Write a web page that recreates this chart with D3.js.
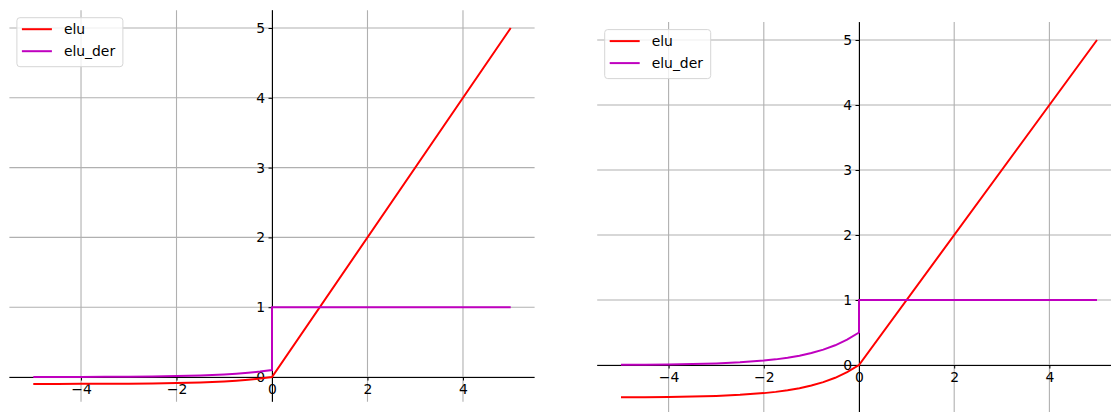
<!DOCTYPE html>
<html>
<head>
<meta charset="utf-8">
<script src="https://cdn.jsdelivr.net/npm/d3@7/dist/d3.min.js"></script>
<style>
  html, body { margin: 0; padding: 0; background: #fff; }
  svg { display: block; }
  text { font-family: "DejaVu Sans", sans-serif; font-size: 13.9px; fill: #000; }
</style>
</head>
<body>
<svg id="chart" width="1111" height="412"></svg>
<script>
// Sample points of ELU and its derivative, alpha = 0.1 (left) and alpha = 0.5 (right)
const xs = [-5, -4.5, -4, -3.5, -3, -2.5, -2, -1.75, -1.5, -1.25, -1, -0.75, -0.5, -0.25, 0, 5];
const xsDer = [-5, -4.5, -4, -3.5, -3, -2.5, -2, -1.75, -1.5, -1.25, -1, -0.75, -0.5, -0.25, 0, 0, 5];

const eluLeft = [-0.0993, -0.0989, -0.0982, -0.0970, -0.0950, -0.0918, -0.0865, -0.0826, -0.0777, -0.0713, -0.0632, -0.0528, -0.0393, -0.0221, 0, 5];
const derLeft = [0.0007, 0.0011, 0.0018, 0.0030, 0.0050, 0.0082, 0.0135, 0.0174, 0.0223, 0.0287, 0.0368, 0.0472, 0.0607, 0.0779, 0.1, 1, 1];

const eluRight = [-0.4966, -0.4944, -0.4908, -0.4849, -0.4751, -0.4590, -0.4323, -0.4131, -0.3884, -0.3568, -0.3161, -0.2638, -0.1967, -0.1106, 0, 5];
const derRight = [0.0034, 0.0056, 0.0092, 0.0151, 0.0249, 0.0410, 0.0677, 0.0869, 0.1116, 0.1433, 0.1839, 0.2362, 0.3033, 0.3894, 0.5, 1, 1];

const xTicks = [-4, -2, 0, 2, 4];
const yTicks = [0, 1, 2, 3, 4, 5];
const seriesNames = ["elu", "elu_der"];
const seriesColors = ["#ff0000", "#bf00bf"];

const svg = d3.select("#chart");
const fmt = d => d < 0 ? "\u2212" + Math.abs(d) : String(d);

function drawPanel(p) {
  const x = d3.scaleLinear().domain(p.xDomain).range(p.xRange);
  const y = d3.scaleLinear().domain(p.yDomain).range(p.yRange);
  const g = svg.append("g");
  const [x0, x1] = p.xRange;
  const [yb, yt] = p.yRange;

  // grid
  g.append("g").selectAll("line").data(xTicks).join("line")
    .attr("x1", d => x(d)).attr("x2", d => x(d))
    .attr("y1", yt).attr("y2", yb)
    .attr("stroke", "#b0b0b0").attr("stroke-width", 1.1);
  g.append("g").selectAll("line").data(yTicks).join("line")
    .attr("x1", x0).attr("x2", x1)
    .attr("y1", d => y(d)).attr("y2", d => y(d))
    .attr("stroke", "#b0b0b0").attr("stroke-width", 1.1);

  // axes through the origin
  const xAxis = d3.axisBottom(x).tickValues(xTicks).tickSize(3.5).tickPadding(3.5).tickFormat(fmt);
  const gx = g.append("g").attr("transform", `translate(0,${y(0)})`).call(xAxis);
  gx.select(".domain").attr("d", `M${x0},0.5H${x1}`).attr("stroke", "#000");

  const yAxis = d3.axisLeft(y).tickValues(yTicks).tickSize(3.5).tickPadding(3.5).tickFormat(fmt);
  const gy = g.append("g").attr("transform", `translate(${x(0)},0)`).call(yAxis);
  gy.select(".domain").attr("d", `M0.5,${yt}V${yb}`).attr("stroke", "#000");

  [gx, gy].forEach(a => {
    a.selectAll("text").attr("font-size", "13.9px").attr("font-family", "DejaVu Sans, sans-serif").attr("fill", "#000");
    a.selectAll(".tick line").attr("stroke", "#000");
  });

  // series
  const line = d3.line().x(d => x(d[0])).y(d => y(d[1]));
  const clipId = "clip" + p.id;
  g.append("clipPath").attr("id", clipId).append("rect")
    .attr("x", x0).attr("y", yt).attr("width", x1 - x0).attr("height", yb - yt);
  const lines = g.append("g").attr("clip-path", `url(#${clipId})`);
  lines.append("path").datum(xs.map((v, i) => [v, p.elu[i]]))
    .attr("d", line).attr("fill", "none").attr("stroke", seriesColors[0]).attr("stroke-width", 2);
  lines.append("path").datum(xsDer.map((v, i) => [v, p.der[i]]))
    .attr("d", line).attr("fill", "none").attr("stroke", seriesColors[1]).attr("stroke-width", 2);

  // legend
  const lg = g.append("g").attr("transform", `translate(${x0 + 7.5},${yt + 7.5})`);
  lg.append("rect").attr("width", 106).attr("height", 49).attr("rx", 3)
    .attr("fill", "#fff").attr("fill-opacity", 0.8).attr("stroke", "#d6d6d6");
  seriesNames.forEach((name, i) => {
    const cy = 11.5 + i * 22;
    lg.append("line").attr("x1", 5).attr("x2", 35).attr("y1", cy).attr("y2", cy)
      .attr("stroke", seriesColors[i]).attr("stroke-width", 2);
    lg.append("text").attr("x", 47).attr("y", cy).attr("dy", "0.35em").text(name);
  });
}

drawPanel({ id: "L", xDomain: [-5.5, 5.5], xRange: [9.4, 534.6], yDomain: [-0.355, 5.255], yRange: [401.8, 10.2], elu: eluLeft, der: derLeft });
drawPanel({ id: "R", xDomain: [-5.5, 5.5], xRange: [597.2, 1120.8], yDomain: [-0.775, 5.275], yRange: [415.4, 22.1], elu: eluRight, der: derRight });
</script>
</body>
</html>
